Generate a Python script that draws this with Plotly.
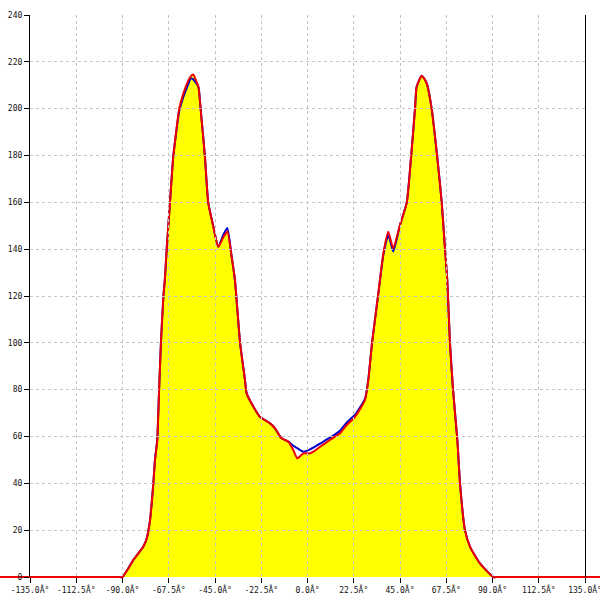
import plotly.graph_objects as go

angles = [-150, -140, -130, -120, -110, -100, -95, -92, -90,
          -84.7, -79.9, -78.2, -76.6, -75.8, -75.0, -74.2, -73.1, -72.2, -71.3, -70.1,
          -69.4, -68.5, -66.9, -65.3, -62.4, -60.4, -58.0, -56.8, -55.6, -53.1, -52.0, -49.9, -48.3,
          -45.8, -43.4, -41.0, -39.0, -36.9, -35.3, -32.8, -30.4, -29.6, -26.5, -23.1, -18.2, -15.8,
          -12.6, -9.3, -6.9, -5.0, -2.0, 1.2, 2.8, 6.1, 10.9, 15.8, 19.1, 23.1, 28.0, 29.6, 31.4,
          34.3, 36.9, 39.3, 41.7, 45.0, 48.3, 50.4, 52.3, 53.1, 55.6, 58.0, 60.4, 63.1, 65.3, 66.9,
          68.0, 69.3, 70.8, 72.9, 74.2, 76.6, 79.1, 83.9, 90.4,
          92.5, 95, 100, 110, 120, 130, 140, 150]

red_values = [0, 0, 0, 0, 0, 0, 0, 0, 0,
              7.3, 12.9, 16.5, 24.3, 31.5, 40, 50, 58.5, 80, 100, 120,
              127, 140, 160, 179.5, 200, 206.5, 212, 213.8, 214.6, 209.4, 200, 179.5, 160,
              149.6, 141, 145, 147.5, 136.8, 126.8, 100, 84, 78.4, 73, 68.4, 65.6, 63.5,
              59.2, 57.8, 54.2, 50.7, 52.8, 52.8, 53.5, 55.6, 58.5, 61.4, 64.9, 68.4, 75.6, 84.1, 100,
              120, 138.2, 147.4, 140.3, 150.3, 160, 179.5, 200, 209.4, 214.1, 210.8, 200, 179.5, 160, 140,
              126.8, 100, 80, 58.5, 40, 20, 12.9, 5.8, 0,
              0, 0, 0, 0, 0, 0, 0, 0]

blue_values = [0, 0, 0, 0, 0, 0, 0, 0, 0,
               7.3, 12.9, 16.5, 24.3, 31.5, 40, 50, 58.5, 80, 100, 120,
               127, 140, 160, 179.5, 199, 205, 210.5, 212.9, 212.5, 209.4, 200, 179.5, 160,
               149.6, 141, 146, 149, 136.8, 126.8, 100, 84, 78.4, 73, 68.4, 65.6, 63.5,
               59.2, 57.8, 56, 55, 53.5, 54.5, 55.2, 57, 59.5, 62.5, 66, 69.2, 76.2, 84.5, 100,
               120, 137.5, 146.2, 139, 150.3, 160, 179.5, 200, 209.4, 214.1, 210.8, 200, 179.5, 160, 140,
               126.8, 100, 80, 58.5, 40, 20, 12.9, 5.8, 0,
               0, 0, 0, 0, 0, 0, 0, 0]

tick_vals = [-135, -112.5, -90, -67.5, -45, -22.5, 0, 22.5, 45, 67.5, 90, 112.5, 135]
tick_text = [f"{v:.1f}Â°" for v in tick_vals]
y_ticks = list(range(0, 241, 20))

fig = go.Figure()
fig.add_trace(go.Scatter(x=angles, y=red_values, mode="lines", fill="tozeroy",
                         fillcolor="#FFFF00", line=dict(width=0, color="#FFFF00", shape="spline", smoothing=0.5),
                         hoverinfo="skip", showlegend=False))
fig.add_trace(go.Scatter(x=angles, y=blue_values, mode="lines",
                         line=dict(color="#0000CC", width=2, shape="spline", smoothing=0.5), showlegend=False))
fig.add_trace(go.Scatter(x=angles, y=red_values, mode="lines",
                         line=dict(color="#EE0000", width=2, shape="spline", smoothing=0.5), showlegend=False))

font = dict(family="DejaVu Sans Mono", size=8, color="#111111")
k = 555 / 270.0           # px per degree
py = 562 / 240.0          # px per y unit
fig.update_layout(
    width=600, height=600,
    margin=dict(l=0, r=0, t=15, b=13, autoexpand=False),
    paper_bgcolor="white", plot_bgcolor="rgba(0,0,0,0)",
    showlegend=False,
    xaxis=dict(domain=[0, 1], range=[-135 - 30 / k, 135 + 15 / k], visible=False,
               showgrid=False, zeroline=False, automargin=False),
    yaxis=dict(domain=[0, 1], range=[-10 / py, 240], visible=False, showgrid=False,
               zeroline=False, automargin=False),
    xaxis2=dict(domain=[0.05, 0.975], range=[-135, 135], anchor="y2", automargin=False,
                tickmode="array", tickvals=tick_vals, ticktext=tick_text,
                ticklabeloverflow="allow",
                showgrid=True, gridcolor="#c4c4c4", griddash="3px,3px", gridwidth=1,
                zeroline=False, showline=False, ticks="outside", ticklen=5,
                tickcolor="black", tickfont=font),
    yaxis2=dict(domain=[10 / 572, 1], range=[0, 240], anchor="x2", automargin=False,
                tickmode="array", tickvals=y_ticks, ticklabeloverflow="allow",
                showgrid=True, gridcolor="#c4c4c4", griddash="3px,3px", gridwidth=1,
                zeroline=False, showline=True, linecolor="black", linewidth=1.2,
                mirror=True, ticks="outside", ticklen=5, tickcolor="black", tickfont=font),
)
# invisible helper trace so the overlay subplot (axes and grid) is created
fig.add_trace(go.Scatter(x=[0], y=[0], xaxis="x2", yaxis="y2", mode="markers",
                         marker=dict(opacity=0), hoverinfo="skip", showlegend=False))

fig.write_html("out.html", config={"displayModeBar": False},
               post_script="document.body.style.margin='0';")
